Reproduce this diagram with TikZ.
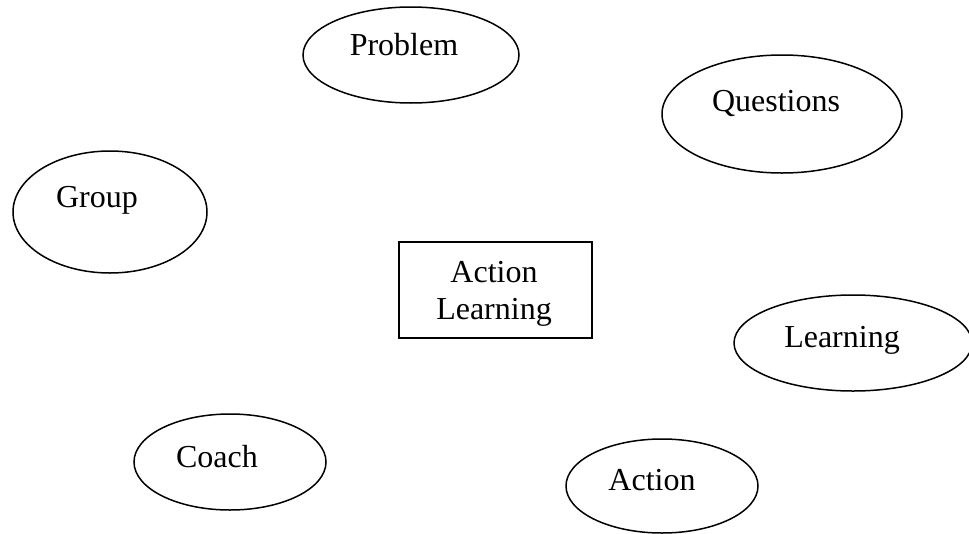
\documentclass[tikz,border=0pt]{standalone}
\usepackage{fontspec}
\setmainfont{Liberation Serif}
\usetikzlibrary{shapes.geometric}
\begin{document}
\begin{tikzpicture}[x=1pt,y=-1pt,
  oval/.style={ellipse, draw=black, line width=1.5pt, inner sep=0pt},
  lbl/.style={anchor=base, inner sep=0pt, font=\fontsize{32}{35}\selectfont},
  boxed/.style={rectangle, draw=black, line width=1.5pt, inner sep=0pt}]
\useasboundingbox (0,0) rectangle (969,533);
\node[oval, minimum width=216pt, minimum height=96pt] (problem) at (411,55) {};
\node[lbl] (tproblem) at (404,55) {Problem};
\node[oval, minimum width=240pt, minimum height=118pt] (questions) at (782,114) {};
\node[lbl] (tquestions) at (776,111) {Questions};
\node[oval, minimum width=194pt, minimum height=122pt] (group) at (110,212) {};
\node[lbl] (tgroup) at (97,207) {Group};
\node[oval, minimum width=192pt, minimum height=96pt] (coach) at (230,462) {};
\node[lbl] (tcoach) at (217,467) {Coach};
\node[oval, minimum width=238pt, minimum height=96pt] (learning) at (853,343) {};
\node[lbl] (tlearning) at (842,347) {Learning};
\node[oval, minimum width=192pt, minimum height=94pt] (action) at (662,486) {};
\node[lbl] (taction) at (652,490) {Action};
\node[boxed, minimum width=193pt, minimum height=96pt] (al) at (495.5,290) {};
\node[lbl] (tal1) at (494,282) {Action};
\node[lbl] (tal2) at (494,319) {Learning};
\end{tikzpicture}
\end{document}
